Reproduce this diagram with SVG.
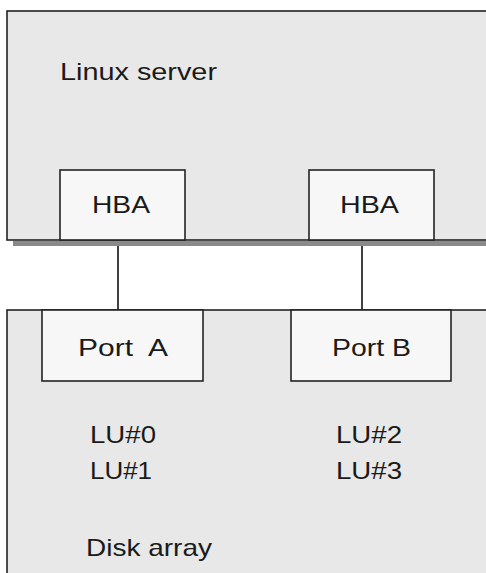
<svg xmlns="http://www.w3.org/2000/svg" width="486" height="573" viewBox="0 0 486 573">
<style>
.box{fill:#e8e8e8;stroke:#222;stroke-width:1.6}
.inner{fill:#f7f7f7;stroke:#222;stroke-width:1.6}
.t{font-family:"Liberation Sans",Arial,sans-serif;font-size:24px;fill:#1a1a1a}
.c{stroke:#111;stroke-width:1.6;fill:none}
</style>
<rect width="486" height="573" fill="#fff"/>
<g id="server">
<rect x="13" y="241" width="480" height="5" fill="#8a8a8a"/>
<rect class="box" x="7" y="11" width="490" height="229"/>
<text class="t" x="60" y="80" textLength="157" lengthAdjust="spacingAndGlyphs">Linux server</text>
</g>
<g id="hba1">
<rect class="inner" x="60" y="170" width="125" height="70"/>
<text class="t" x="92" y="213" textLength="58" lengthAdjust="spacingAndGlyphs">HBA</text>
</g>
<g id="hba2">
<rect class="inner" x="309" y="170" width="125" height="70"/>
<text class="t" x="340" y="213" textLength="59" lengthAdjust="spacingAndGlyphs">HBA</text>
</g>
<g id="connectors">
<line class="c" x1="118" y1="246" x2="118" y2="310"/>
<line class="c" x1="362" y1="246" x2="362" y2="310"/>
</g>
<g id="diskarray">
<rect class="box" x="7" y="310" width="490" height="280"/>
<text class="t" x="90" y="443" textLength="66" lengthAdjust="spacingAndGlyphs">LU#0</text>
<text class="t" x="90" y="479" textLength="62" lengthAdjust="spacingAndGlyphs">LU#1</text>
<text class="t" x="336" y="443" textLength="66" lengthAdjust="spacingAndGlyphs">LU#2</text>
<text class="t" x="336" y="479" textLength="66" lengthAdjust="spacingAndGlyphs">LU#3</text>
<text class="t" x="86" y="556" textLength="126" lengthAdjust="spacingAndGlyphs">Disk array</text>
</g>
<g id="portA">
<rect class="inner" x="42" y="310" width="161" height="71"/>
<text class="t" x="78" y="356" textLength="90" lengthAdjust="spacingAndGlyphs">Port&#160; A</text>
</g>
<g id="portB">
<rect class="inner" x="291" y="310" width="160" height="71"/>
<text class="t" x="332" y="356" textLength="79" lengthAdjust="spacingAndGlyphs">Port B</text>
</g>
</svg>
